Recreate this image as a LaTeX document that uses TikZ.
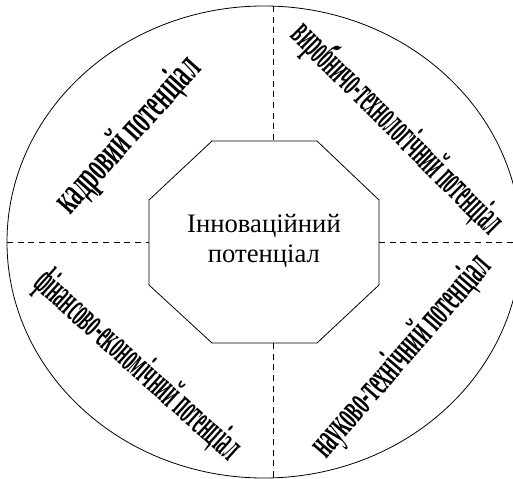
\documentclass[tikz,border=0pt]{standalone}
\usepackage{fontspec}
\setmainfont{Liberation Serif}
\usepackage{graphicx}
\usepackage{tikz}
\tikzset{
  part/.style={inner sep=0pt, font=\bfseries\fontsize{32}{32}\selectfont},
  core/.style={align=center, font=\fontsize{20}{23}\selectfont},
  divider/.style={dashed, dash pattern=on 4.5pt off 3.5pt, line width=0.6pt},
}

\begin{document}
\begin{tikzpicture}[x=0.75pt, y=0.75pt, line width=0.6pt]

  \useasboundingbox (-264,-236) rectangle (249,242);
  \clip (-264,-236) rectangle (249,242);

  \newcommand\RX{257};
  \newcommand\RY{236};

  %% outer ellipse
  \draw (0,0) ellipse [x radius=\RX, y radius=\RY];

  %% octagon with the core
  \draw (-52,101) -- (53,101) -- (115,42) -- (115,-43) -- (53,-101)
        -- (-52,-101) -- (-115,-43) -- (-115,42) -- cycle;
  \node[core] (inno) at (0,1) {Інноваційний\\потенціал};

  \coordinate (octN) at (9,101);
  \coordinate (octS) at (9,-101);
  \coordinate (octW) at (-115,0);
  \coordinate (octE) at (115,0);
  \coordinate (rimN) at (9,\RY);
  \coordinate (rimS) at (9,-\RY);
  \coordinate (rimW) at (-\RX,0);
  \coordinate (rimE) at (\RX,0);

  \draw[divider] (rimN) -- (octN); % top
  \draw[divider] (octS) -- (rimS); % bottom
  \draw[divider] (rimW) -- (octW); % left
  \draw[divider] (octE) -- (rimE); % right

  %% the four parts
  \node[part, rotate=48] (kadr) at (-135,106)
    {\scalebox{0.51}[1]{кадровий потенціал}};
  \node[part, rotate=-45] (vyrob) at (133,113)
    {\scalebox{0.40}[1]{виробничо-технологічний потенціал}};
  \node[part, rotate=49] (nauk) at (138,-115)
    {\scalebox{0.45}[1]{науково-технічний потенціал}};
  \node[part, rotate=-42] (fin) at (-127,-124)
    {\scalebox{0.40}[1]{фінансово-економічний потенціал}};

\end{tikzpicture}
\end{document}
